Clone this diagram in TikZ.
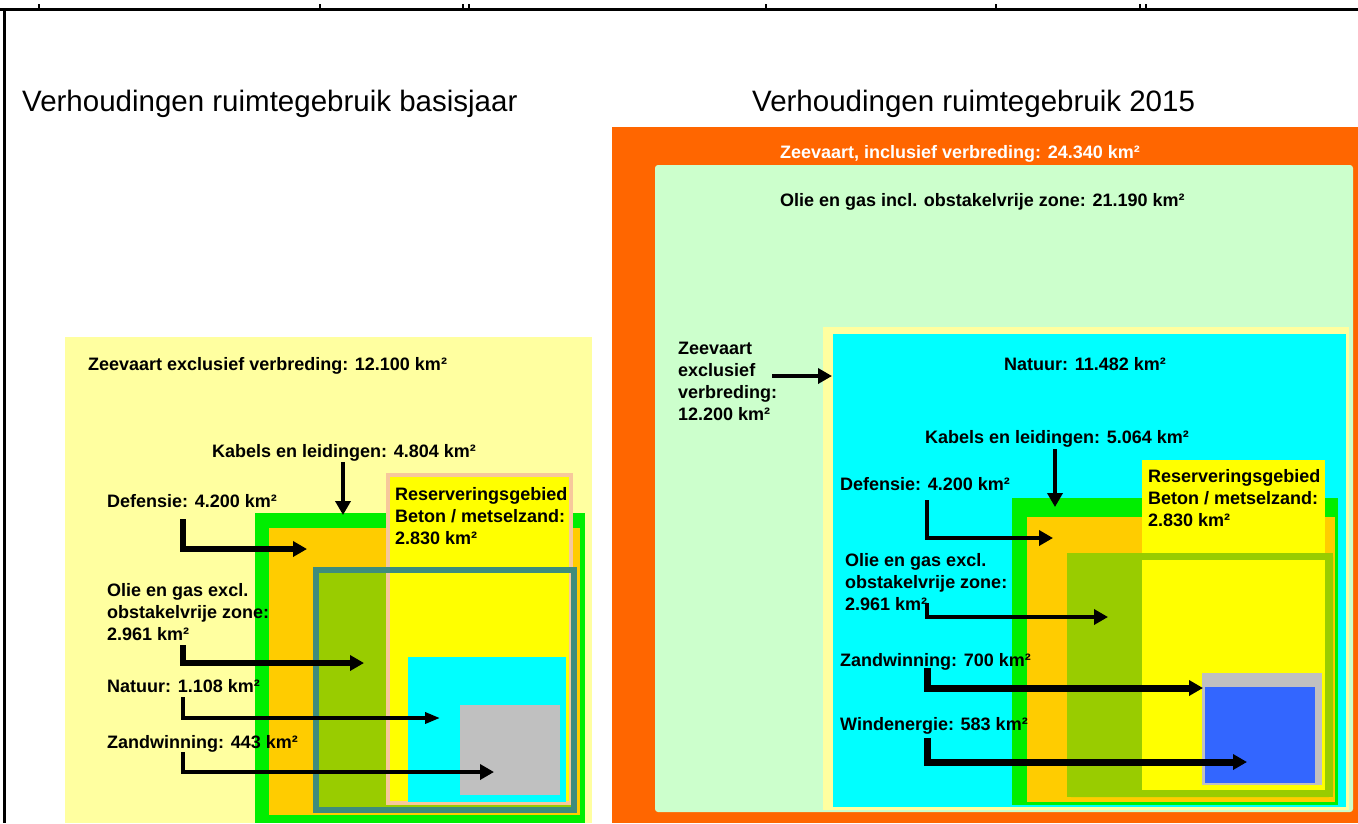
\documentclass[tikz,border=0pt]{standalone}
\usepackage{fontspec}
\setmainfont{Liberation Sans}
\usetikzlibrary{arrows.meta}

\definecolor{paleyel}{HTML}{FFFFA0}
\definecolor{brightgreen}{HTML}{00EE00}
\definecolor{amber}{HTML}{FFCC00}
\definecolor{olive}{HTML}{99CC00}
\definecolor{pureyel}{HTML}{FFFF00}
\definecolor{aqua}{HTML}{00FFFF}
\definecolor{silver}{HTML}{C0C0C0}
\definecolor{windblue}{HTML}{3366FF}
\definecolor{peach}{HTML}{F7C89C}
\definecolor{tealline}{HTML}{3E8C7C}
\definecolor{shiporange}{HTML}{FF6600}
\definecolor{mint}{HTML}{CCFFCC}

\begin{document}
\begin{tikzpicture}[x=1pt,y=-1pt,
  lbl/.style={font=\fontsize{18}{22}\selectfont\bfseries, inner sep=0pt,
              anchor=base west, align=left},
  ttl/.style={font=\fontsize{29.5}{34}\selectfont, inner sep=0pt, anchor=base west},
  area/.style={draw=none, fill=#1},
  arr/.style={draw=black, line width=#1,
              -{Triangle[length=14pt,width=15pt]}},
  thinarr/.style={draw=black, line width=#1,
              -{Triangle[length=15pt,width=11pt]}}]

\useasboundingbox (0,0) rectangle (1358,823);
\fill[white] (0,0) rectangle (1358,823);

% page frame with clipped glyph remnants above the top rule
\draw[line width=3pt] (0,9) -- (1358,9);
\draw[line width=3pt] (4,9) -- (4,823);
\foreach \tx in {39,320,463,469,766,996,1140,1146}
  \draw[line width=2pt] (\tx,4) -- (\tx,9);

% ---------------- titles ----------------
\node[ttl] (t1) at (22,111) {Verhoudingen ruimtegebruik basisjaar};
\node[ttl] (t2) at (752,111) {Verhoudingen ruimtegebruik 2015};

% ---------------- base year ----------------
\path[area=paleyel]     (65,337)  rectangle (592,823);
\path[area=brightgreen] (255,513) rectangle (585,823);
\path[area=amber]       (269,528) rectangle (580,815);
\path[area=olive]       (313,567) rectangle (577,813);
\path[fill=pureyel, draw=peach, line width=4pt] (388,475) rectangle (571,803);
\path[area=aqua]        (408,657) rectangle (566,802);
\path[area=silver]      (460,705) rectangle (560,795);
\draw[tealline, line width=6pt] (316,570) rectangle (574,810);

% multi-line labels are placed by the baseline of their last line
\node[lbl] (z1) at (88,370) {Zeevaart exclusief verbreding: 12.100 km²};
\node[lbl] (k1) at (212,457) {Kabels en leidingen: 4.804 km²};
\node[lbl] (d1) at (107,507) {Defensie: 4.200 km²};
\node[lbl] (r1) at (395,544) {Reserveringsgebied\\Beton / metselzand:\\2.830 km²};
\node[lbl] (o1) at (107,640) {Olie en gas excl.\\obstakelvrije zone:\\2.961 km²};
\node[lbl] (n1) at (107,692) {Natuur: 1.108 km²};
\node[lbl] (s1) at (107,748) {Zandwinning: 443 km²};

\coordinate (k1a) at (343,462);  \coordinate (k1b) at (343,515);
\coordinate (d1a) at (183,519);  \coordinate (d1b) at (307,549);
\coordinate (o1a) at (183,645);  \coordinate (o1b) at (364,663);
\coordinate (n1a) at (183,697);  \coordinate (n1b) at (440,718);
\coordinate (s1a) at (183,752);  \coordinate (s1b) at (494,772);

\draw[arr=4pt]   (k1a) -- (k1b);
\draw[arr=6pt]   (d1a) |- (d1b);
\draw[arr=6pt]   (o1a) |- (o1b);
\draw[thinarr=3.5pt] (n1a) |- (n1b);
\draw[arr=4.5pt] (s1a) |- (s1b);

% ---------------- 2015 ----------------
\path[area=shiporange]  (612,127)  rectangle (1358,823);
\path[area=mint, rounded corners=3pt] (655,165) rectangle (1353,812);
\path[area=paleyel]     (823,327)  rectangle (1349,810);
\path[area=aqua]        (833,334)  rectangle (1346,807);
\path[area=brightgreen] (1012,498) rectangle (1338,805);
\path[area=amber]       (1027,517) rectangle (1335,802);
\path[area=olive, rounded corners=4pt] (1067,553) rectangle (1333,797);
\path[area=pureyel]     (1142,460) rectangle (1325,790);
\draw[olive, line width=7pt] (1070.5,556.5) rectangle (1329.5,793.5);
\path[area=silver]      (1202,673) rectangle (1322,785);
\path[area=windblue]    (1205,687) rectangle (1315,783);

\node[lbl, white, anchor=base] (z2) at (960,158) {Zeevaart, inclusief verbreding: 24.340 km²};
\node[lbl] (o2) at (780,206) {Olie en gas incl. obstakelvrije zone: 21.190 km²};
\node[lbl] (z3) at (678,420) {Zeevaart\\exclusief\\verbreding:\\12.200 km²};
\node[lbl, anchor=base] (n2) at (1085,370) {Natuur: 11.482 km²};
\node[lbl] (k2) at (925,443) {Kabels en leidingen: 5.064 km²};
\node[lbl] (d2) at (840,490) {Defensie: 4.200 km²};
\node[lbl] (r2) at (1148,526) {Reserveringsgebied\\Beton / metselzand:\\2.830 km²};
\node[lbl] (o3) at (845,610) {Olie en gas excl.\\obstakelvrije zone:\\2.961 km²};
\node[lbl] (s2) at (840,666) {Zandwinning: 700 km²};
\node[lbl] (w2) at (840,730) {Windenergie: 583 km²};

\coordinate (z3a) at (772,376);  \coordinate (z3b) at (832,376);
\coordinate (k2a) at (1055,449); \coordinate (k2b) at (1055,507);
\coordinate (d2a) at (927,500);  \coordinate (d2b) at (1053,538);
\coordinate (o3a) at (927,603);  \coordinate (o3b) at (1108,617);
\coordinate (s2a) at (927,668);  \coordinate (s2b) at (1203,688);
\coordinate (w2a) at (927,738);  \coordinate (w2b) at (1247,762);

\draw[arr=4pt]   (z3a) -- (z3b);
\draw[arr=3.5pt] (k2a) -- (k2b);
\draw[arr=4pt]   (d2a) |- (d2b);
\draw[arr=4.5pt] (o3a) |- (o3b);
\draw[arr=7pt]   (s2a) |- (s2b);
\draw[arr=7pt]   (w2a) |- (w2b);

\end{tikzpicture}
\end{document}
